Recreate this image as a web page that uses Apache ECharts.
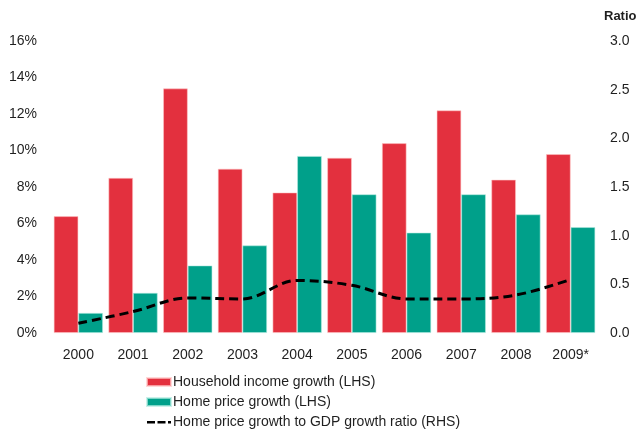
<!DOCTYPE html>
<html>
<head>
<meta charset="utf-8">
<script src="https://cdn.jsdelivr.net/npm/echarts@6/dist/echarts.min.js"></script>
<style>
  html, body { margin: 0; padding: 0; background: #fff; }
  #chart { width: 641px; height: 430px; }
</style>
</head>
<body>
<div id="chart"></div>
<script>
// Years on the category axis
const years = ['2000', '2001', '2002', '2003', '2004', '2005', '2006', '2007', '2008', '2009*'];
// Annual growth rates, % (left axis)
const householdIncomeGrowth = [6.4, 8.5, 13.4, 9.0, 7.7, 9.6, 10.4, 12.2, 8.4, 9.8];
const homePriceGrowth = [1.1, 2.2, 3.7, 4.8, 9.7, 7.6, 5.5, 7.6, 6.5, 5.8];
// Home price growth relative to GDP growth (right axis)
const priceToGdpRatio = [0.10, 0.22, 0.36, 0.35, 0.54, 0.49, 0.35, 0.35, 0.39, 0.55];

const FONT = '"Liberation Sans", Arial, sans-serif';
const TEXT = '#1f1f1f';
const RED = '#E3303E';
const TEAL = '#00A08A';

// Dash-dash-dot legend key; the tiny corner squares pin the 24x8 icon box
const DASH_ICON = 'path://M0,0h0.01v0.01h-0.01z M24,8h-0.01v-0.01h0.01z ' +
  'M0,3h8v2.5h-8z M10.5,3h8v2.5h-8z M21,3h3v2.5h-3z';

const chart = echarts.init(document.getElementById('chart'), null, { renderer: 'canvas' });

chart.setOption({
  animation: false,
  backgroundColor: '#ffffff',
  textStyle: { fontFamily: FONT, color: TEXT },
  title: {
    text: 'Ratio',
    left: 604,
    top: 10,
    padding: 0,
    textStyle: { fontFamily: FONT, fontSize: 13, fontWeight: 'bold', color: TEXT }
  },
  grid: { left: 51, right: 43, top: 41, bottom: 97 },
  legend: {
    orient: 'vertical',
    left: 146,
    top: 372,
    height: 70,
    padding: 0,
    itemWidth: 24,
    itemHeight: 8,
    itemGap: 0,
    textStyle: { fontFamily: FONT, fontSize: 14, color: TEXT, lineHeight: 20, padding: [0, 0, 0, -3] },
    data: [
      { name: 'Household income growth (LHS)', icon: 'rect' },
      { name: 'Home price growth (LHS)', icon: 'rect' },
      { name: 'Home price growth to GDP growth ratio (RHS)', icon: DASH_ICON, itemStyle: { color: '#000' } }
    ]
  },
  xAxis: {
    type: 'category',
    data: years,
    axisLine: { show: false },
    axisTick: { show: false },
    axisLabel: { fontFamily: FONT, fontSize: 14, color: TEXT, margin: 15 }
  },
  yAxis: [
    {
      type: 'value',
      min: 0,
      max: 16,
      interval: 2,
      splitLine: { show: false },
      axisLine: { show: false },
      axisTick: { show: false },
      axisLabel: { fontFamily: FONT, fontSize: 14, color: TEXT, margin: 14, formatter: '{value}%' }
    },
    {
      type: 'value',
      min: 0,
      max: 3,
      interval: 0.5,
      splitLine: { show: false },
      axisLine: { show: false },
      axisTick: { show: false },
      axisLabel: {
        fontFamily: FONT, fontSize: 14, color: TEXT, margin: 12,
        formatter: v => v.toFixed(1)
      }
    }
  ],
  series: [
    {
      name: 'Household income growth (LHS)',
      type: 'bar',
      data: householdIncomeGrowth,
      barGap: '0%',
      barCategoryGap: '10%',
      itemStyle: { color: RED, borderColor: 'rgba(255,200,200,0.7)', borderWidth: 0.8 }
    },
    {
      name: 'Home price growth (LHS)',
      type: 'bar',
      data: homePriceGrowth,
      barGap: '0%',
      barCategoryGap: '10%',
      itemStyle: { color: TEAL, borderColor: 'rgba(180,235,225,0.7)', borderWidth: 0.8 }
    },
    {
      name: 'Home price growth to GDP growth ratio (RHS)',
      type: 'line',
      yAxisIndex: 1,
      data: priceToGdpRatio,
      smooth: 0.35,
      symbol: 'none',
      itemStyle: { color: '#000' },
      lineStyle: { color: '#000', width: 3, type: [9, 5] },
      z: 5
    }
  ]
});
</script>
</body>
</html>
